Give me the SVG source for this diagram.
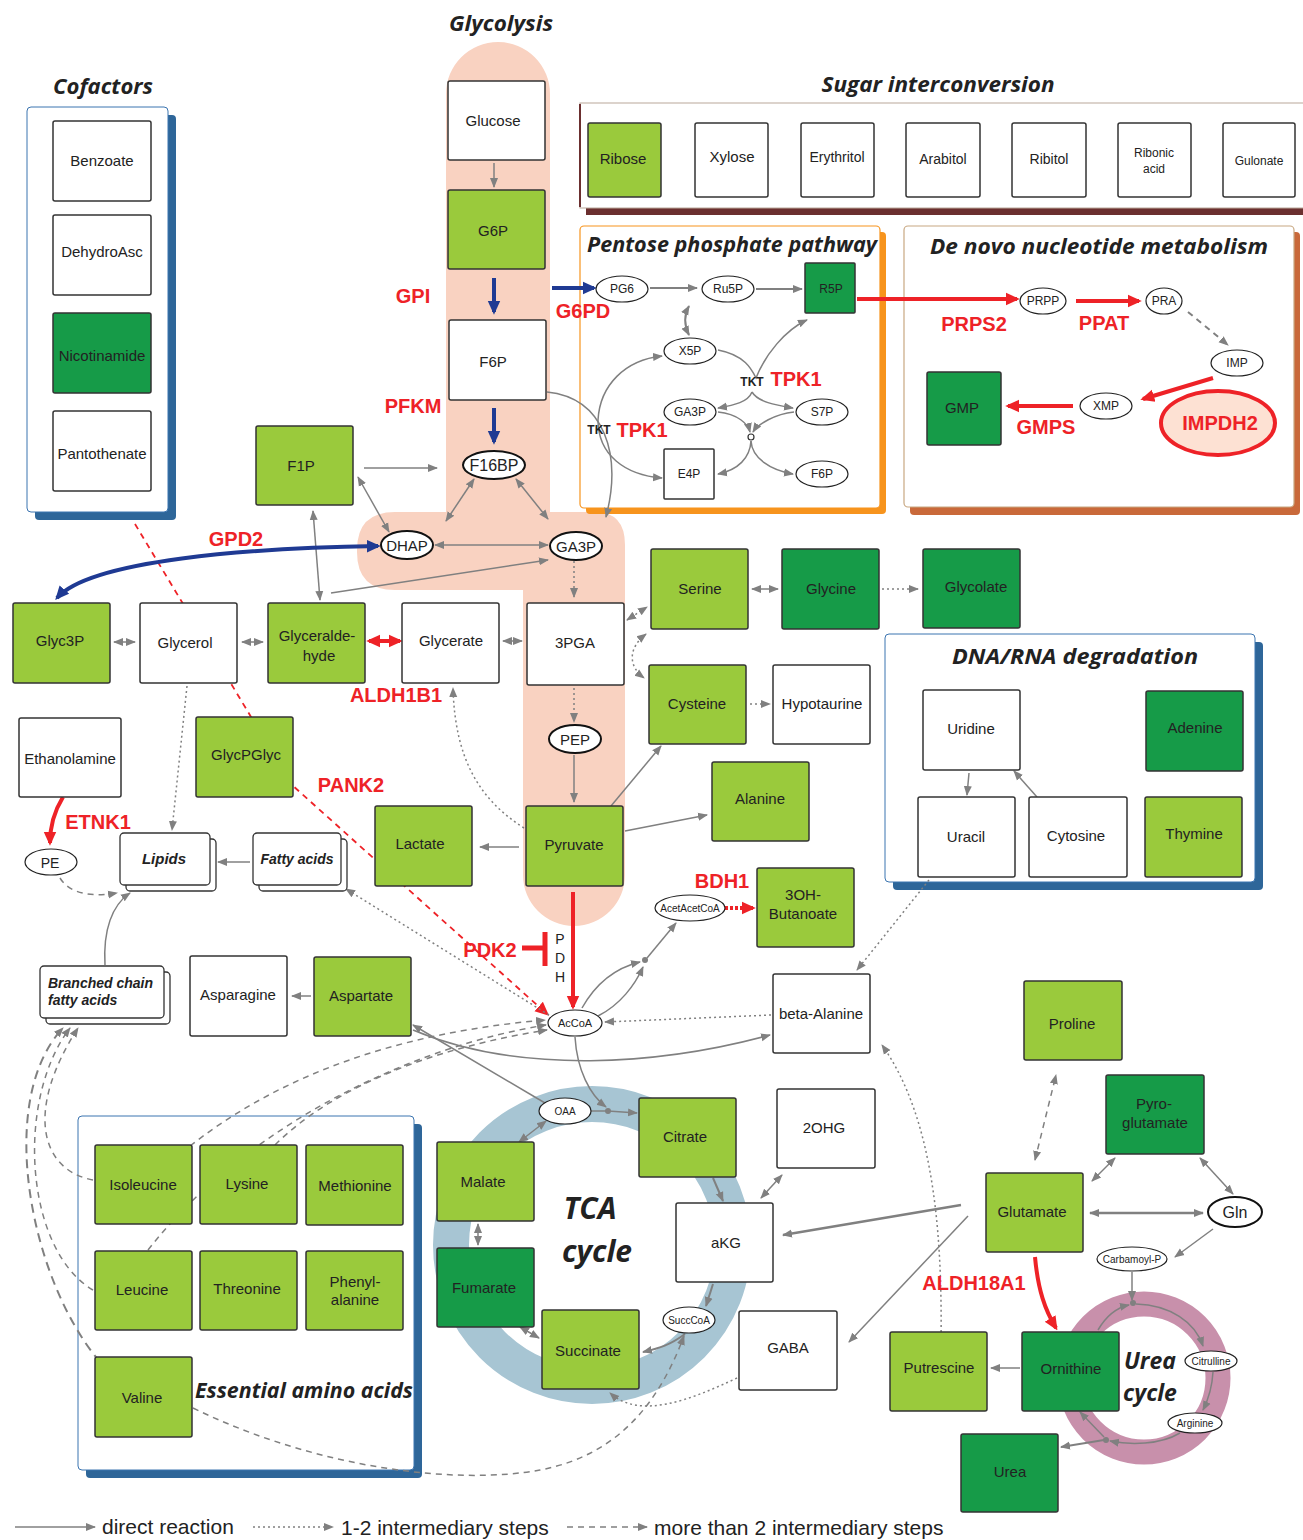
<svg xmlns="http://www.w3.org/2000/svg" width="1303" height="1540" viewBox="0 0 1303 1540">
<defs>
<style>
.n{stroke:#333;stroke-width:1.5}
.lg{fill:#9aca3c}.dg{fill:#169b48}.wh{fill:#fff}
.t{font-family:"Liberation Sans",Arial,sans-serif;font-size:15px;fill:#222;text-anchor:middle}
.ts{font-family:"Liberation Sans",Arial,sans-serif;font-size:12px;fill:#222;text-anchor:middle}
.tx{font-family:"Liberation Sans",Arial,sans-serif;font-size:10px;fill:#222;text-anchor:middle}
.ti{font-family:"Open Sans","Liberation Sans",sans-serif;font-weight:bold;font-style:italic;font-size:22px;fill:#222;text-anchor:middle}
.tb{font-family:"Liberation Sans",Arial,sans-serif;font-weight:bold;font-style:italic;font-size:15px;fill:#222}
.r{font-family:"Liberation Sans",Arial,sans-serif;font-weight:bold;font-size:20px;fill:#ee2227;text-anchor:middle}
.k{font-family:"Liberation Sans",Arial,sans-serif;font-weight:bold;font-size:12px;fill:#222;text-anchor:middle}
.c{fill:none;stroke:#808080;stroke-width:1.5}
.dt{stroke-dasharray:2 3}
.ds{stroke-dasharray:6 5}
.ae{marker-end:url(#ag)}
.ab{marker-end:url(#ag);marker-start:url(#ag)}
.red{fill:none;stroke:#ee2227;stroke-width:4;marker-end:url(#ar)}
.blue{fill:none;stroke:#1f3a93;stroke-width:4;marker-end:url(#ab2)}
.el{fill:#fff;stroke:#222;stroke-width:1.2}
.leg{font-family:"Liberation Sans",Arial,sans-serif;font-size:21px;fill:#222}
</style>
<marker id="ag" viewBox="0 0 10 10" refX="9" refY="5" markerWidth="10" markerHeight="10" orient="auto-start-reverse" markerUnits="userSpaceOnUse"><path d="M0,1 L10,5 L0,9 z" fill="#808080"/></marker>
<marker id="ar" viewBox="0 0 10 10" refX="8" refY="5" markerWidth="14" markerHeight="14" orient="auto-start-reverse" markerUnits="userSpaceOnUse"><path d="M0,0.5 L10,5 L0,9.5 z" fill="#ee2227"/></marker>
<marker id="ab2" viewBox="0 0 10 10" refX="8" refY="5" markerWidth="14" markerHeight="14" orient="auto-start-reverse" markerUnits="userSpaceOnUse"><path d="M0,0.5 L10,5 L0,9.5 z" fill="#1f3a93"/></marker>
</defs>
<rect width="1303" height="1540" fill="#fff"/>

<g id="backgrounds">
<path d="M446,94 A52,52 0 0 1 550,94 L550,512 L595,512 Q625,512 625,545 L625,875 A51,51 0 0 1 523,875 L523,590 L395,590 Q357,590 357,552 L357,550 Q357,512 395,512 L446,512 Z" fill="#f9d2c1"/>
<circle cx="592" cy="1245" r="141" fill="none" stroke="#a7c5d3" stroke-width="36"/>
<circle cx="1144" cy="1378" r="74" fill="none" stroke="#c890ab" stroke-width="25"/>
<rect x="35" y="115" width="141" height="405" rx="4" fill="#2e6699"/>
<rect x="27" y="107" width="141" height="405" rx="4" fill="#fff" stroke="#3b74b0" stroke-width="1"/>
<rect x="586" y="109" width="720" height="106" fill="#6b2f2f"/>
<rect x="580" y="103" width="726" height="105" fill="#fff" stroke="#b9a79a" stroke-width="1"/>
<line x1="580" y1="104" x2="580" y2="207" stroke="#6b2f2f" stroke-width="2"/>
<rect x="586" y="232" width="300" height="282" rx="4" fill="#f7941d"/>
<rect x="580" y="226" width="300" height="282" rx="4" fill="#fff" stroke="#f7941d" stroke-width="1.2"/>
<rect x="910" y="232" width="390" height="283" rx="4" fill="#c9693a"/>
<rect x="904" y="226" width="390" height="281" rx="4" fill="#fff" stroke="#c8a882" stroke-width="1.2"/>
<rect x="893" y="642" width="370" height="248" rx="4" fill="#2e6699"/>
<rect x="885" y="634" width="370" height="248" rx="4" fill="#fff" stroke="#3b74b0" stroke-width="1"/>
<rect x="86" y="1124" width="336" height="354" rx="4" fill="#2e6699"/>
<rect x="78" y="1116" width="336" height="354" rx="4" fill="#fff" stroke="#3b74b0" stroke-width="1"/>
</g>

<g id="titles">
<text class="ti" x="501" y="31" textLength="104" lengthAdjust="spacingAndGlyphs">Glycolysis</text>
<text class="ti" x="103" y="94" textLength="100" lengthAdjust="spacingAndGlyphs">Cofactors</text>
<text class="ti" x="938" y="92" textLength="233" lengthAdjust="spacingAndGlyphs">Sugar interconversion</text>
<text class="ti" x="732" y="252" textLength="290" lengthAdjust="spacingAndGlyphs">Pentose phosphate pathway</text>
<text class="ti" x="1099" y="254" textLength="338" lengthAdjust="spacingAndGlyphs">De novo nucleotide metabolism</text>
<text class="ti" x="1075" y="664" textLength="246" lengthAdjust="spacingAndGlyphs">DNA/RNA degradation</text>
<text class="ti" x="304" y="1398" textLength="218" lengthAdjust="spacingAndGlyphs">Essential amino acids</text>
<text class="ti" x="590" y="1219" style="font-size:30px">TCA</text>
<text class="ti" x="597" y="1262" style="font-size:30px">cycle</text>
<text class="ti" x="1150" y="1369" style="font-size:23px">Urea</text>
<text class="ti" x="1150" y="1401" style="font-size:23px">cycle</text>
</g>

<g id="connectors">
<path d="M135,524 L292,785 L547,1014" fill="none" stroke="#ee2227" stroke-width="1.8" stroke-dasharray="6 5" marker-end="url(#ar)"/>
<path class="c ae" d="M494,163 L494,187"/>
<path class="c ab" d="M474,479 L446,521"/>
<path class="c ab" d="M516,479 L548,519"/>
<path class="c ab" d="M435,545 L548,545"/>
<path class="c ae dt" d="M574,561 L574,597"/>
<path class="c ae dt" d="M574,688 L574,722"/>
<path class="c ae" d="M574,755 L574,802"/>
<path class="c ae" d="M364,468 L437,468"/>
<path class="c ab" d="M358,477 L389,532"/>
<path class="c ab" d="M313,511 L320,600"/>
<path class="c ae" d="M331,593 L548,560"/>
<path class="c ab" d="M114,642 L135,642"/>
<path class="c ab" d="M242,642 L263,642"/>
<path class="c ab" d="M503,641 L522,641"/>
<path class="c ae" d="M519,847 L480,847"/>
<path class="c ae dt" d="M524,828 C480,800 455,760 453,688"/>
<path class="c ae" d="M611,806 L661,746"/>
<path class="c ae" d="M625,831 L707,815"/>
<path class="c ab dt" d="M627,620 L647,607"/>
<path class="c ab dt" d="M646,634 C628,648 628,666 644,678"/>
<path class="c ab" d="M752,589 L778,589"/>
<path class="c ae dt" d="M882,589 L918,589"/>
<path class="c ae dt" d="M750,704 L770,704"/>
<path class="c ae" d="M250,862 L218,862"/>
<path class="c ae dt" d="M187,686 L172,830"/>
<path class="c ae ds" d="M60,878 C70,895 95,897 117,893"/>
<path class="c ae" d="M105,965 C103,930 112,905 130,893"/>
<path class="c ae" d="M311,996 L292,996"/>
<path class="c ae dt" d="M549,1015 L346,889"/>
<path class="c ae" d="M545,1103 L413,1025"/>
<path class="c ae" d="M413,1030 C520,1075 660,1065 770,1035"/>
<path class="c ae dt" d="M771,1015 L605,1022"/>
<path class="c ae dt" d="M929,880 L857,970"/>
<path class="c ae" d="M582,1008 C595,985 615,968 640,962"/>
<path class="c ae" d="M598,1016 C620,1005 635,985 643,967"/>
<path class="c ae" d="M647,958 L676,923"/>
<circle cx="645" cy="960" r="3" fill="#808080"/>
<path class="c ae" d="M575,1037 C577,1070 590,1095 606,1107"/>
<path class="c" d="M591,1111 L608,1111"/>
<path class="c ae" d="M608,1111 L637,1113"/>
<circle cx="608" cy="1111" r="3" fill="#808080"/>
<path class="c ae" d="M713,1178 L723,1201" style="stroke-width:2"/>
<path class="c ae" d="M713,1284 L706,1306" style="stroke-width:2"/>
<path class="c ae" d="M685,1334 C670,1345 660,1348 643,1352" style="stroke-width:2"/>
<path class="c ab" d="M539,1338 L520,1327"/>
<path class="c ab" d="M478,1245 L478,1224"/>
<path class="c ab" d="M519,1142 L546,1121"/>
<path class="c ab" d="M782,1175 L761,1198"/>
<path class="c ae" d="M961,1205 L783,1235" style="stroke-width:2.5"/>
<path class="c ae" d="M968,1216 L849,1342"/>
<path class="c ae dt" d="M737,1378 C690,1400 640,1420 610,1393"/>
<path class="c ae ds" d="M193,1408 C320,1470 460,1485 540,1470 C620,1455 660,1400 684,1336"/>
<path class="c ae dt" d="M940,1382 C945,1240 935,1120 882,1045"/>
<path class="c ae ds" d="M93,1180 C40,1170 25,1110 78,1028"/>
<path class="c ae ds" d="M93,1290 C25,1250 15,1100 70,1028"/>
<path class="c ae" d="M100,1362 C30,1280 -5,1100 63,1028" style="stroke-width:2;stroke-dasharray:9 6"/>
<path class="c ae ds" d="M190,1146 C300,1060 430,1030 545,1020"/>
<path class="c ae ds" d="M148,1250 C250,1120 420,1045 546,1025"/>
<path class="c ae ds" d="M275,1145 C340,1080 450,1045 547,1030"/>
<path class="c ab ds" d="M1035,1160 L1056,1075"/>
<path class="c ab" d="M1092,1181 L1115,1158"/>
<path class="c ab" d="M1200,1158 L1233,1194"/>
<path class="c ab" d="M1090,1213 L1203,1213" style="stroke-width:2.5"/>
<path class="c ae" d="M1213,1229 L1175,1257"/>
<path class="c ae" d="M1132,1272 L1132,1300"/>
<path class="c ae" d="M1098,1330 C1105,1318 1115,1308 1129,1305"/>
<path class="c ae" d="M1136,1304 C1170,1305 1195,1322 1203,1346"/>
<path class="c ae" d="M1213,1372 C1212,1390 1208,1400 1203,1410"/>
<path class="c ae" d="M1180,1433 C1160,1445 1130,1445 1110,1441"/>
<path class="c ae" d="M1104,1437 L1080,1412"/>
<path class="c ae" d="M1104,1440 L1061,1447" style="stroke-width:2"/>
<circle cx="1133" cy="1303" r="3" fill="#808080"/>
<circle cx="1106" cy="1440" r="3" fill="#808080"/>
<path class="c ae" d="M1020,1368 L991,1368"/>
<path class="c ae" d="M969,773 L967,795"/>
<path class="c ae" d="M1037,797 L1014,771"/>
<path class="c ae" d="M650,288 L697,288" style="stroke-width:2"/>
<path class="c ae" d="M756,289 L802,289" style="stroke-width:2"/>
<path class="c ab" d="M689,306 C684,315 684,325 689,335" style="stroke-width:2"/>
<path class="c ae" d="M718,350 C745,355 752,370 756,378 C765,355 785,330 807,320"/>
<path class="c ae" d="M752,392 C748,402 735,405 718,408"/>
<path class="c ae" d="M752,392 C758,402 775,405 793,408"/>
<path class="c ae" d="M718,412 C738,414 748,424 750,432"/>
<path class="c ae" d="M794,412 C775,414 758,424 753,432"/>
<path class="c ae" d="M751,441 C750,458 738,470 718,474"/>
<path class="c ae" d="M751,441 C752,458 770,470 793,474"/>
<circle cx="751" cy="437" r="3" fill="#fff" stroke="#333" stroke-width="1.2"/>
<path class="c ae" d="M598,420 C600,385 625,360 662,356"/>
<path class="c ae" d="M598,420 C598,455 625,475 662,478"/>
<path class="c ae" d="M547,392 C605,398 622,455 606,517"/>
<path class="c ae ds" d="M1188,312 L1228,345" style="stroke-width:2"/>
<path class="blue" d="M494,278 L494,312"/>
<path class="blue" d="M494,408 L494,442"/>
<path class="blue" d="M552,288 L594,288"/>
<path class="blue" d="M378,546 C250,548 90,560 57,598" marker-start="url(#ab2)"/>
<path class="red" d="M857,299 L1017,299"/>
<path class="red" d="M1076,301 L1139,301"/>
<path class="red" d="M1213,378 L1143,399"/>
<path class="red" d="M1073,406 L1008,406"/>
<path class="red" d="M369,641 L400,641" marker-start="url(#ar)"/>
<path class="red" d="M63,797 C55,810 50,825 50,843"/>
<path class="red" d="M573,892 L573,1007"/>
<path d="M522,948 L545,948 M545,932 L545,966" fill="none" stroke="#ee2227" stroke-width="5"/>
<path class="red" d="M725,908 L753,908" style="stroke-dasharray:3 2"/>
<path class="red" d="M1035,1257 C1038,1290 1045,1310 1056,1328"/>
</g>

<g id="enzymes">
<text class="r" x="413" y="303">GPI</text>
<text class="r" x="413" y="413">PFKM</text>
<text class="r" x="583" y="318">G6PD</text>
<text class="r" x="236" y="546">GPD2</text>
<text class="r" x="396" y="702">ALDH1B1</text>
<text class="r" x="351" y="792">PANK2</text>
<text class="r" x="98" y="829">ETNK1</text>
<text class="r" x="490" y="957">PDK2</text>
<text class="r" x="722" y="888">BDH1</text>
<text class="r" x="974" y="1290">ALDH18A1</text>
<text class="r" x="974" y="331">PRPS2</text>
<text class="r" x="1104" y="330">PPAT</text>
<text class="r" x="1046" y="434">GMPS</text>
<text class="k" x="752" y="386">TKT</text><text class="r" x="796" y="386">TPK1</text>
<text class="k" x="599" y="434">TKT</text><text class="r" x="642" y="437">TPK1</text>
<text class="ts" x="560" y="944" style="font-size:14px">P</text>
<text class="ts" x="560" y="963" style="font-size:14px">D</text>
<text class="ts" x="560" y="982" style="font-size:14px">H</text>
</g>

<g id="n-cofactors">
<g id="benzoate"><rect class="n wh" x="53" y="121" width="98" height="80" rx="2"/><text class="t" x="102" y="166">Benzoate</text></g>
<g id="dehydroasc"><rect class="n wh" x="53" y="215" width="98" height="80" rx="2"/><text class="t" x="102" y="257">DehydroAsc</text></g>
<g id="nicotinamide"><rect class="n dg" x="53" y="313" width="98" height="80" rx="2"/><text class="t" x="102" y="361">Nicotinamide</text></g>
<g id="pantothenate"><rect class="n wh" x="53" y="411" width="98" height="80" rx="2"/><text class="t" x="102" y="459">Pantothenate</text></g>
</g>

<g id="n-glycolysis">
<g id="glucose"><rect class="n wh" x="448" y="81" width="97" height="79" rx="2"/><text class="t" x="493" y="126">Glucose</text></g>
<g id="g6p"><rect class="n lg" x="448" y="190" width="97" height="79" rx="2"/><text class="t" x="493" y="236">G6P</text></g>
<g id="f6p"><rect class="n wh" x="449" y="320" width="97" height="80" rx="2"/><text class="t" x="493" y="367">F6P</text></g>
<g id="f16bp"><ellipse cx="494" cy="465" rx="31" ry="14" fill="#fff" stroke="#111" stroke-width="2"/><text class="t" x="494" y="471" style="font-size:16px">F16BP</text></g>
<g id="dhap"><ellipse cx="407" cy="545" rx="26" ry="14" fill="#fff" stroke="#111" stroke-width="2"/><text class="t" x="407" y="551">DHAP</text></g>
<g id="ga3p"><ellipse cx="576" cy="546" rx="26" ry="14" fill="#fff" stroke="#111" stroke-width="2"/><text class="t" x="576" y="552">GA3P</text></g>
<g id="pga3"><rect class="n wh" x="527" y="603" width="97" height="82" rx="2"/><text class="t" x="575" y="648">3PGA</text></g>
<g id="pep"><ellipse cx="575" cy="739" rx="26" ry="14" fill="#fff" stroke="#111" stroke-width="2"/><text class="t" x="575" y="745">PEP</text></g>
<g id="pyruvate"><rect class="n lg" x="526" y="806" width="97" height="80" rx="2"/><text class="t" x="574" y="850">Pyruvate</text></g>
<g id="f1p"><rect class="n lg" x="256" y="426" width="97" height="79" rx="2"/><text class="t" x="301" y="471">F1P</text></g>
</g>

<g id="n-sugar">
<g id="ribose"><rect class="n lg" x="588" y="123" width="73" height="74" rx="2"/><text class="t" x="623" y="164">Ribose</text></g>
<g id="xylose"><rect class="n wh" x="695" y="123" width="73" height="74" rx="2"/><text class="t" x="732" y="162">Xylose</text></g>
<g id="erythritol"><rect class="n wh" x="801" y="123" width="73" height="74" rx="2"/><text class="t" x="837" y="162" style="font-size:14px">Erythritol</text></g>
<g id="arabitol"><rect class="n wh" x="906" y="123" width="74" height="74" rx="2"/><text class="t" x="943" y="164" style="font-size:14px">Arabitol</text></g>
<g id="ribitol"><rect class="n wh" x="1012" y="123" width="74" height="74" rx="2"/><text class="t" x="1049" y="164" style="font-size:14px">Ribitol</text></g>
<g id="ribonic"><rect class="n wh" x="1118" y="123" width="73" height="74" rx="2"/><text class="ts" x="1154" y="157">Ribonic</text><text class="ts" x="1154" y="173">acid</text></g>
<g id="gulonate"><rect class="n wh" x="1223" y="123" width="72" height="74" rx="2"/><text class="ts" x="1259" y="165">Gulonate</text></g>
</g>

<g id="n-ppp">
<g id="pg6"><ellipse class="el" cx="622" cy="289" rx="26" ry="13"/><text class="ts" x="622" y="293">PG6</text></g>
<g id="ru5p"><ellipse class="el" cx="728" cy="289" rx="26" ry="13"/><text class="ts" x="728" y="293">Ru5P</text></g>
<g id="r5p"><rect class="n dg" x="805" y="263" width="50" height="50" rx="1"/><text class="ts" x="831" y="293">R5P</text></g>
<g id="x5p"><ellipse class="el" cx="690" cy="351" rx="26" ry="13"/><text class="ts" x="690" y="355">X5P</text></g>
<g id="ga3p2"><ellipse class="el" cx="690" cy="412" rx="26" ry="13"/><text class="ts" x="690" y="416">GA3P</text></g>
<g id="s7p"><ellipse class="el" cx="822" cy="412" rx="26" ry="13"/><text class="ts" x="822" y="416">S7P</text></g>
<g id="e4p"><rect class="n wh" x="664" y="449" width="50" height="50" rx="1"/><text class="ts" x="689" y="478">E4P</text></g>
<g id="f6p2"><ellipse class="el" cx="822" cy="474" rx="26" ry="13"/><text class="ts" x="822" y="478">F6P</text></g>
</g>

<g id="n-nucleotide">
<g id="prpp"><ellipse class="el" cx="1043" cy="301" rx="23" ry="13"/><text class="ts" x="1043" y="305">PRPP</text></g>
<g id="pra"><ellipse class="el" cx="1164" cy="301" rx="18" ry="13"/><text class="ts" x="1164" y="305">PRA</text></g>
<g id="imp"><ellipse class="el" cx="1237" cy="363" rx="26" ry="13"/><text class="ts" x="1237" y="367">IMP</text></g>
<g id="xmp"><ellipse class="el" cx="1106" cy="406" rx="26" ry="13"/><text class="ts" x="1106" y="410">XMP</text></g>
<g id="gmp"><rect class="n dg" x="927" y="372" width="74" height="73" rx="2"/><text class="t" x="962" y="413">GMP</text></g>
<g id="impdh2"><ellipse cx="1218" cy="423" rx="57" ry="32" fill="#fde1d3" stroke="#ee2227" stroke-width="4"/><text class="r" x="1220" y="430">IMPDH2</text></g>
</g>

<g id="n-left">
<g id="glyc3p"><rect class="n lg" x="13" y="603" width="97" height="80" rx="2"/><text class="t" x="60" y="646">Glyc3P</text></g>
<g id="glycerol"><rect class="n wh" x="140" y="603" width="97" height="80" rx="2"/><text class="t" x="185" y="648">Glycerol</text></g>
<g id="glyceraldehyde"><rect class="n lg" x="268" y="603" width="97" height="80" rx="2"/><text class="t" x="317" y="641">Glyceralde-</text><text class="t" x="319" y="661">hyde</text></g>
<g id="glycerate"><rect class="n wh" x="402" y="603" width="97" height="80" rx="2"/><text class="t" x="451" y="646">Glycerate</text></g>
<g id="glycpglyc"><rect class="n lg" x="196" y="717" width="97" height="80" rx="2"/><text class="t" x="246" y="760">GlycPGlyc</text></g>
<g id="ethanolamine"><rect class="n wh" x="19" y="718" width="102" height="79" rx="2"/><text class="t" x="70" y="764">Ethanolamine</text></g>
<g id="pe"><ellipse class="el" cx="51" cy="862" rx="26" ry="13"/><text class="t" x="50" y="868" style="font-size:14px">PE</text></g>
<g id="lipids"><rect x="126" y="839" width="90" height="52" rx="4" fill="#fff" stroke="#333" stroke-width="1.3"/><rect x="120" y="833" width="90" height="52" rx="4" fill="#fff" stroke="#333" stroke-width="1.3"/><text class="tb" x="164" y="864" text-anchor="middle">Lipids</text></g>
<g id="fattyacids"><rect x="259" y="839" width="88" height="52" rx="4" fill="#fff" stroke="#333" stroke-width="1.3"/><rect x="253" y="833" width="88" height="52" rx="4" fill="#fff" stroke="#333" stroke-width="1.3"/><text class="tb" x="297" y="864" text-anchor="middle" style="font-size:14px">Fatty acids</text></g>
<g id="bcfa"><rect x="46" y="972" width="124" height="52" rx="4" fill="#fff" stroke="#333" stroke-width="1.3"/><rect x="40" y="966" width="124" height="52" rx="4" fill="#fff" stroke="#333" stroke-width="1.3"/><text class="tb" x="48" y="988" style="font-size:14px">Branched chain</text><text class="tb" x="48" y="1005" style="font-size:14px">fatty acids</text></g>
<g id="lactate"><rect class="n lg" x="375" y="806" width="97" height="80" rx="2"/><text class="t" x="420" y="849">Lactate</text></g>
<g id="asparagine"><rect class="n wh" x="190" y="956" width="97" height="80" rx="2"/><text class="t" x="238" y="1000">Asparagine</text></g>
<g id="aspartate"><rect class="n lg" x="314" y="957" width="97" height="79" rx="2"/><text class="t" x="361" y="1001">Aspartate</text></g>
</g>

<g id="n-middle">
<g id="serine"><rect class="n lg" x="651" y="549" width="97" height="80" rx="2"/><text class="t" x="700" y="594">Serine</text></g>
<g id="glycine"><rect class="n dg" x="782" y="549" width="97" height="80" rx="2"/><text class="t" x="831" y="594">Glycine</text></g>
<g id="glycolate"><rect class="n dg" x="923" y="549" width="97" height="79" rx="2"/><text class="t" x="976" y="592">Glycolate</text></g>
<g id="cysteine"><rect class="n lg" x="649" y="665" width="97" height="79" rx="2"/><text class="t" x="697" y="709">Cysteine</text></g>
<g id="hypotaurine"><rect class="n wh" x="773" y="665" width="97" height="79" rx="2"/><text class="t" x="822" y="709">Hypotaurine</text></g>
<g id="alanine"><rect class="n lg" x="712" y="762" width="97" height="79" rx="2"/><text class="t" x="760" y="804">Alanine</text></g>
<g id="accoa"><ellipse class="el" cx="575" cy="1023" rx="27" ry="13"/><text class="tx" x="575" y="1027" style="font-size:11px">AcCoA</text></g>
<g id="acetacetcoa"><ellipse class="el" cx="690" cy="908" rx="35" ry="13"/><text class="tx" x="690" y="912">AcetAcetCoA</text></g>
<g id="butanoate"><rect class="n lg" x="757" y="868" width="97" height="79" rx="2"/><text class="t" x="803" y="900">3OH-</text><text class="t" x="803" y="919">Butanoate</text></g>
<g id="betaalanine"><rect class="n wh" x="773" y="974" width="97" height="79" rx="2"/><text class="t" x="821" y="1019">beta-Alanine</text></g>
</g>

<g id="n-dna">
<g id="uridine"><rect class="n wh" x="923" y="690" width="97" height="80" rx="2"/><text class="t" x="971" y="734">Uridine</text></g>
<g id="adenine"><rect class="n dg" x="1146" y="691" width="97" height="80" rx="2"/><text class="t" x="1195" y="733">Adenine</text></g>
<g id="uracil"><rect class="n wh" x="918" y="797" width="97" height="80" rx="2"/><text class="t" x="966" y="842">Uracil</text></g>
<g id="cytosine"><rect class="n wh" x="1029" y="797" width="98" height="80" rx="2"/><text class="t" x="1076" y="841">Cytosine</text></g>
<g id="thymine"><rect class="n lg" x="1145" y="797" width="97" height="80" rx="2"/><text class="t" x="1194" y="839">Thymine</text></g>
</g>

<g id="n-tca">
<g id="oaa"><ellipse class="el" cx="565" cy="1111" rx="26" ry="13"/><text class="tx" x="565" y="1115">OAA</text></g>
<g id="citrate"><rect class="n lg" x="639" y="1098" width="97" height="79" rx="2"/><text class="t" x="685" y="1142">Citrate</text></g>
<g id="akg"><rect class="n wh" x="676" y="1203" width="97" height="79" rx="2"/><text class="t" x="726" y="1248">aKG</text></g>
<g id="succcoa"><ellipse class="el" cx="689" cy="1320" rx="26" ry="13"/><text class="tx" x="689" y="1324">SuccCoA</text></g>
<g id="succinate"><rect class="n lg" x="542" y="1310" width="97" height="79" rx="2"/><text class="t" x="588" y="1356">Succinate</text></g>
<g id="fumarate"><rect class="n dg" x="437" y="1248" width="97" height="79" rx="2"/><text class="t" x="484" y="1293">Fumarate</text></g>
<g id="malate"><rect class="n lg" x="437" y="1142" width="97" height="79" rx="2"/><text class="t" x="483" y="1187">Malate</text></g>
<g id="ohg"><rect class="n wh" x="777" y="1089" width="98" height="79" rx="2"/><text class="t" x="824" y="1133">2OHG</text></g>
<g id="gaba"><rect class="n wh" x="739" y="1311" width="98" height="79" rx="2"/><text class="t" x="788" y="1353">GABA</text></g>
</g>

<g id="n-aa">
<g id="isoleucine"><rect class="n lg" x="95" y="1145" width="97" height="79" rx="2"/><text class="t" x="143" y="1190">Isoleucine</text></g>
<g id="lysine"><rect class="n lg" x="200" y="1145" width="97" height="79" rx="2"/><text class="t" x="247" y="1189">Lysine</text></g>
<g id="methionine"><rect class="n lg" x="306" y="1145" width="97" height="80" rx="2"/><text class="t" x="355" y="1191">Methionine</text></g>
<g id="leucine"><rect class="n lg" x="95" y="1251" width="97" height="79" rx="2"/><text class="t" x="142" y="1295">Leucine</text></g>
<g id="threonine"><rect class="n lg" x="200" y="1251" width="97" height="79" rx="2"/><text class="t" x="247" y="1294">Threonine</text></g>
<g id="phenylalanine"><rect class="n lg" x="306" y="1251" width="97" height="79" rx="2"/><text class="t" x="355" y="1287">Phenyl-</text><text class="t" x="355" y="1305">alanine</text></g>
<g id="valine"><rect class="n lg" x="95" y="1357" width="97" height="80" rx="2"/><text class="t" x="142" y="1403">Valine</text></g>
</g>

<g id="n-right">
<g id="proline"><rect class="n lg" x="1024" y="981" width="98" height="79" rx="2"/><text class="t" x="1072" y="1029">Proline</text></g>
<g id="pyroglutamate"><rect class="n dg" x="1106" y="1075" width="98" height="79" rx="2"/><text class="t" x="1154" y="1109">Pyro-</text><text class="t" x="1155" y="1128">glutamate</text></g>
<g id="glutamate"><rect class="n lg" x="986" y="1173" width="97" height="79" rx="2"/><text class="t" x="1032" y="1217">Glutamate</text></g>
<g id="gln"><ellipse cx="1235" cy="1212" rx="27" ry="15" fill="#fff" stroke="#111" stroke-width="2"/><text class="t" x="1235" y="1218" style="font-size:16px">Gln</text></g>
<g id="carbamoylp"><ellipse class="el" cx="1132" cy="1259" rx="35" ry="12"/><text class="tx" x="1132" y="1263">Carbamoyl-P</text></g>
<g id="ornithine"><rect class="n dg" x="1022" y="1332" width="97" height="79" rx="2"/><text class="t" x="1071" y="1374">Ornithine</text></g>
<g id="putrescine"><rect class="n lg" x="890" y="1332" width="97" height="79" rx="2"/><text class="t" x="939" y="1373">Putrescine</text></g>
<g id="urea"><rect class="n dg" x="961" y="1434" width="97" height="78" rx="2"/><text class="t" x="1010" y="1477">Urea</text></g>
<g id="citrulline"><ellipse class="el" cx="1211" cy="1361" rx="26" ry="10"/><text class="tx" x="1211" y="1365">Citrulline</text></g>
<g id="arginine"><ellipse class="el" cx="1195" cy="1423" rx="27" ry="10"/><text class="tx" x="1195" y="1427">Arginine</text></g>
</g>

<g id="legend">
<path class="c ae" d="M15,1527 L95,1527"/>
<text class="leg" x="102" y="1534">direct reaction</text>
<path class="c ae dt" d="M253,1527 L333,1527"/>
<text class="leg" x="341" y="1535">1-2 intermediary steps</text>
<path class="c ae ds" d="M567,1527 L647,1527"/>
<text class="leg" x="654" y="1535">more than 2 intermediary steps</text>
</g>
</svg>
